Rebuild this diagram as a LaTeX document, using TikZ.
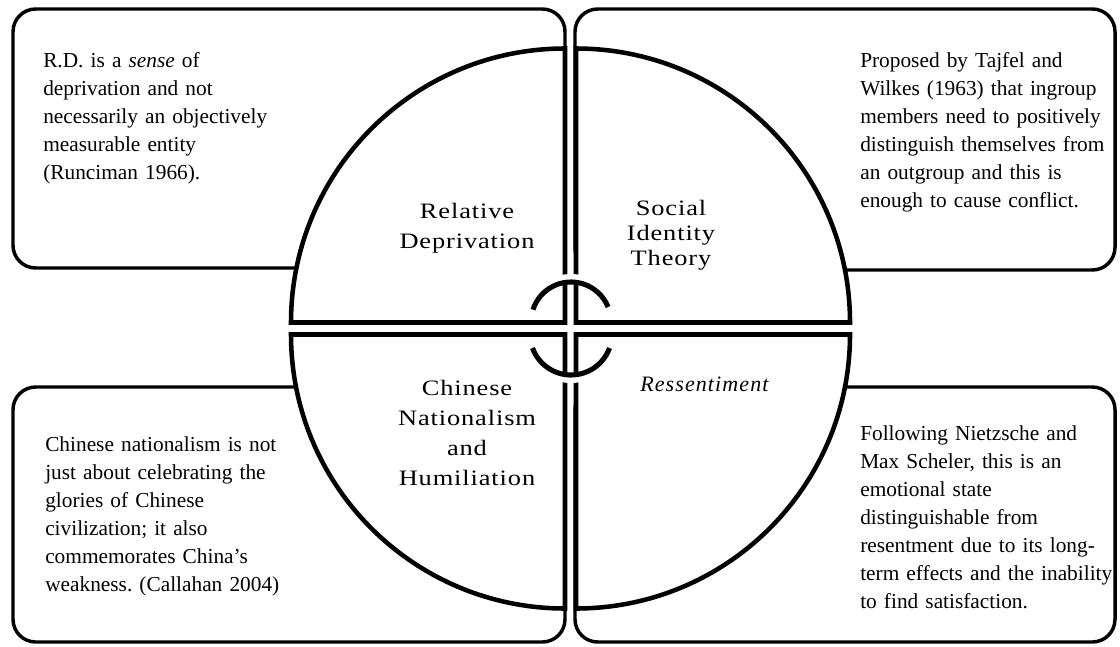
\documentclass[tikz,border=0pt]{standalone}
\usepackage{fontspec}
\setmainfont{Liberation Serif}
\newfontfamily\labelfont[FakeStretch=1.2,LetterSpace=4]{Liberation Serif}
\newfontfamily\resfont[LetterSpace=5]{Liberation Serif}
\begin{document}
\frenchspacing
\begin{tikzpicture}[x=0.75pt,y=-0.75pt,
  boxline/.style={draw=black, line width=2.6pt, fill=white, rounded corners=17pt},
  pie/.style={draw=black, line width=3.4pt, fill=white, line join=miter},
  halo/.style={draw=white, line width=4.5pt},
  ring/.style={draw=black, line width=3.8pt},
  note/.style={inner sep=0pt, anchor=base west, text width=300pt, align=left,
    font=\frenchspacing\fontsize{16}{21}\selectfont},
  qlabel/.style={inner sep=0pt, anchor=base, text width=200pt, align=center,
    font=\labelfont\fontsize{16.5}{22.5}\selectfont}]
\useasboundingbox[fill=white] (0,0) rectangle (1120,646);

% corner boxes
\draw[boxline] (13,9) rectangle (565,268);
\draw[boxline] (575,9) rectangle (1115,270);
\draw[boxline] (13,387) rectangle (565,642);
\draw[boxline] (575,387) rectangle (1115,642);

% four quadrants of the circle
\draw[pie] (565,322.5) -- ++(-274,0) arc[start angle=180, end angle=270, radius=274] -- cycle;
\draw[pie] (576,322.5) -- ++(0,-274) arc[start angle=270, end angle=360, radius=274] -- cycle;
\draw[pie] (565,334.5) -- ++(0,274) arc[start angle=90, end angle=180, radius=274] -- cycle;
\draw[pie] (576,334.5) -- ++(274,0) arc[start angle=0, end angle=90, radius=274] -- cycle;

% centre arcs
\draw[halo] (571,322) ++(200:45) arc[start angle=200, end angle=336, radius=45];
\draw[ring] (571,322) ++(198:40) arc[start angle=198, end angle=338, radius=40];
\draw[halo] (571,334) ++(24:46) arc[start angle=24, end angle=156, radius=46];
\draw[ring] (571,334) ++(20:41) arc[start angle=20, end angle=160, radius=41];

% quadrant labels
\node[qlabel] (rd) at (467,218) {Relative\\Deprivation};
\node[qlabel, font=\labelfont\fontsize{16.5}{18.75}\selectfont] (sit) at (671,215) {Social\\Identity\\Theory};
\node[qlabel] (cnh) at (467,395) {Chinese\\Nationalism\\and\\Humiliation};
\node[inner sep=0pt, anchor=base west, font=\resfont\itshape\fontsize{16.5}{22.5}\selectfont] (res) at (640,391) {Ressentiment};

% box texts
\node[note] (tltext) at (43,67) {R.D. is a \textit{sense} of\\ deprivation and not\\ necessarily an objectively\\ measurable entity\\ (Runciman 1966).};
\node[note] (trtext) at (860,67) {Proposed by Tajfel and\\ Wilkes (1963) that ingroup\\ members need to positively\\ distinguish themselves from\\ an outgroup and this is\\ enough to cause conflict.};
\node[note] (bltext) at (45,451) {Chinese nationalism is not\\ just about celebrating the\\ glories of Chinese\\ civilization; it also\\ commemorates China’s\\ weakness. (Callahan 2004)};
\node[note] (brtext) at (860,440) {Following Nietzsche and\\ Max Scheler, this is an\\ emotional state\\ distinguishable from\\ resentment due to its long-\\ term effects and the inability\\ to find satisfaction.};
\end{tikzpicture}
\end{document}
